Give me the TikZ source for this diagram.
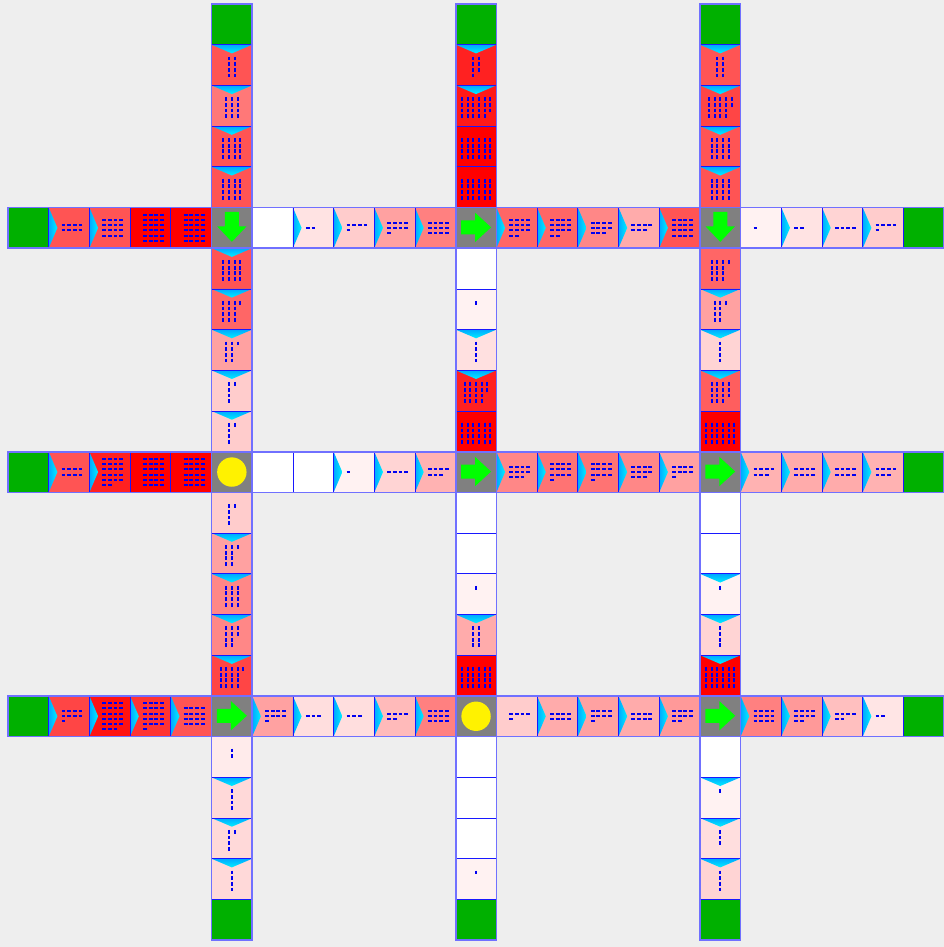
\documentclass[tikz,border=0pt]{standalone}
\usetikzlibrary{calc}
\definecolor{bggray}{HTML}{EEEEEE}
\definecolor{exitgreen}{HTML}{00B000}
\definecolor{crossgray}{HTML}{808080}
\definecolor{arrowgreen}{HTML}{00FF00}
\definecolor{cellblue}{HTML}{1818FF}
\definecolor{edgeblue}{HTML}{7070FF}
\definecolor{carblue}{HTML}{0000F0}
\definecolor{entryblue}{HTML}{00A8FF}
\definecolor{entrycyan}{HTML}{00F0FF}
\tikzset{
    cellframe/.style={draw=cellblue,line width=0.8pt},
    roadframe/.style={draw=edgeblue,line width=1.6pt},
    cardash/.style={draw=carblue,line width=2pt},
    exitcell/.style={fill=exitgreen},
    crosscell/.style={fill=crossgray},
    turnarrow/.style={fill=arrowgreen},
    signaldot/.style={fill=yellow}
}
\newcommand{\cellsize}{40.7}

% cell of a road running left to right
\newcommand{\hcell}[5]{%
  \pgfmathsetmacro{\cellx}{8+#1*\cellsize}%
  \pgfmathsetmacro{\celly}{4+#2*\cellsize}%
  \fill[red!#3!white] (\cellx,\celly) rectangle ++(\cellsize,\cellsize);
  \ifnum#5=1
    \shade[left color=entryblue,right color=entrycyan]
      (\cellx,\celly) -- ++(8.7,20.35) -- ++(-8.7,20.35) -- cycle;
  \fi
  \ifnum#4>0
    \pgfmathtruncatemacro{\nrows}{ceil(#4/4)}%
    \foreach \k in {1,...,#4}{
      \pgfmathtruncatemacro{\carrow}{int((\k-1)/4)}
      \pgfmathtruncatemacro{\carcol}{mod(\k-1,4)}
      \pgfmathsetmacro{\carx}{\cellx+23.35+(\carcol-1.5)*5.67}
      \pgfmathsetmacro{\cary}{\celly+20.35+(\carrow-(\nrows-1)/2)*5.2}
      \draw[cardash] (\carx-1.9,\cary) -- (\carx+1.9,\cary);
    }
  \fi
  \draw[cellframe] (\cellx,\celly) rectangle ++(\cellsize,\cellsize);
}

% cell of a road running top to bottom
\newcommand{\vcell}[5]{%
  \pgfmathsetmacro{\cellx}{8+#1*\cellsize}%
  \pgfmathsetmacro{\celly}{4+#2*\cellsize}%
  \fill[red!#3!white] (\cellx,\celly) rectangle ++(\cellsize,\cellsize);
  \ifnum#5=1
    \shade[top color=entryblue,bottom color=entrycyan]
      (\cellx,\celly) -- ++(20.35,8.7) -- ++(20.35,-8.7) -- cycle;
  \fi
  \ifnum#4>0
    \pgfmathtruncatemacro{\ncols}{ceil(#4/4)}%
    \foreach \k in {1,...,#4}{
      \pgfmathtruncatemacro{\carcol}{int((\k-1)/4)}
      \pgfmathtruncatemacro{\carrow}{mod(\k-1,4)}
      \pgfmathsetmacro{\carx}{\cellx+20.35+(\carcol-(\ncols-1)/2)*5.67}
      \pgfmathsetmacro{\cary}{\celly+22.35+(\carrow-1.5)*5.67}
      \draw[cardash] (\carx,\cary-1.9) -- (\carx,\cary+1.9);
    }
  \fi
  \draw[cellframe] (\cellx,\celly) rectangle ++(\cellsize,\cellsize);
}

\begin{document}
\begin{tikzpicture}[x=1pt,y=-1pt]
  \fill[bggray] (0,0) rectangle (944,947);
  \useasboundingbox (0,0) rectangle (944,947);

  % horizontal roads: index/tone/cars/entry
  \foreach \idx/\tone/\cnt/\tip in {1/67/8/1,2/67/16/1,3/100/24/0,4/100/24/0,
      6/0/0/0,7/11/2/1,8/20/5/1,9/37/9/1,10/50/12/1,12/60/14/1,13/60/14/1,
      14/47/11/1,15/33/7/1,16/67/16/1,18/5/1/0,19/11/2/1,20/17/4/1,21/20/5/1}
    {\hcell{\idx}{5}{\tone}{\cnt}{\tip}}
  \foreach \idx/\tone/\cnt/\tip in {1/67/8/1,2/87/22/1,3/100/24/0,4/100/24/0,
      6/0/0/0,7/0/0/0,8/5/1/1,9/17/4/1,10/30/7/1,12/47/11/1,13/55/13/1,
      14/55/13/1,15/47/11/1,16/37/9/1,18/30/7/1,19/33/8/1,20/33/8/1,21/30/7/1}
    {\hcell{\idx}{11}{\tone}{\cnt}{\tip}}
  \foreach \idx/\tone/\cnt/\tip in {1/73/9/1,2/93/23/1,3/80/21/1,4/67/16/1,
      6/37/9/1,7/13/3/1,8/13/3/1,9/27/6/1,10/50/12/1,12/20/5/0,13/33/8/1,
      14/37/9/1,15/33/8/1,16/40/10/1,18/50/12/1,19/40/10/1,20/25/6/1,21/10/2/1}
    {\hcell{\idx}{17}{\tone}{\cnt}{\tip}}

  % vertical roads
  \foreach \idx/\tone/\cnt/\tip in {1/67/8/1,2/53/12/1,3/67/16/1,4/67/16/1,
      6/67/16/1,7/60/13/1,8/37/9/1,9/20/5/1,10/20/5/1,12/20/5/0,13/37/9/1,
      14/47/12/1,15/47/10/1,16/73/17/1,18/8/2/0,19/15/4/1,20/15/5/1,21/15/4/1}
    {\vcell{5}{\idx}{\tone}{\cnt}{\tip}}
  \foreach \idx/\tone/\cnt/\tip in {1/87/7/1,2/90/23/1,3/100/24/0,4/100/24/0,
      6/0/0/0,7/5/1/0,8/12/4/1,9/87/18/1,10/100/24/0,12/0/0/0,13/0/0/0,
      14/5/1/0,15/33/8/1,16/100/24/0,18/0/0/0,19/0/0/0,20/0/0/0,21/5/1/0}
    {\vcell{11}{\idx}{\tone}{\cnt}{\tip}}
  \foreach \idx/\tone/\cnt/\tip in {1/67/8/1,2/73/18/1,3/67/16/1,4/67/16/1,
      6/60/13/0,7/37/9/1,8/17/4/1,9/63/15/1,10/100/24/0,12/0/0/0,13/0/0/0,
      14/5/1/1,15/17/4/1,16/100/24/1,18/0/0/0,19/5/1/1,20/13/3/1,21/17/4/1}
    {\vcell{17}{\idx}{\tone}{\cnt}{\tip}}

  % exits
  \foreach \r in {5,11,17}{
    \foreach \e in {0,22}{
      \fill[exitgreen] (8+\e*\cellsize,4+\r*\cellsize) rectangle ++(\cellsize,\cellsize);
      \draw[cellframe] (8+\e*\cellsize,4+\r*\cellsize) rectangle ++(\cellsize,\cellsize);
      \fill[exitgreen] (8+\r*\cellsize,4+\e*\cellsize) rectangle ++(\cellsize,\cellsize);
      \draw[cellframe] (8+\r*\cellsize,4+\e*\cellsize) rectangle ++(\cellsize,\cellsize);
    }
  }

  % crossings
  \foreach \ci/\cj in {5/5,11/5,17/5,5/11,11/11,17/11,5/17,11/17,17/17}{
    \fill[crosscell] (8+\ci*\cellsize,4+\cj*\cellsize) rectangle ++(\cellsize,\cellsize);
    \draw[cellframe] (8+\ci*\cellsize,4+\cj*\cellsize) rectangle ++(\cellsize,\cellsize);
  }
  \foreach \ci/\cj in {11/5,11/11,17/11,5/17,17/17}{
    \fill[turnarrow,shift={(28.35+\ci*\cellsize,23.85+\cj*\cellsize)}]
      (-15,-7) -- (-1,-7) -- (-1,-14.7) -- (15,0) -- (-1,14.7) -- (-1,7) -- (-15,7) -- cycle;
  }
  \foreach \ci/\cj in {5/5,17/5}{
    \fill[turnarrow,shift={(28.35+\ci*\cellsize,23.35+\cj*\cellsize)}]
      (-7,-15) -- (-7,-0.5) -- (-14.7,-0.5) -- (0,15) -- (14.7,-0.5) -- (7,-0.5) -- (7,-15) -- cycle;
  }
  \foreach \ci/\cj in {5/11,11/17}{
    \fill[signaldot] (28.35+\ci*\cellsize,24.35+\cj*\cellsize) circle (14.7);
  }

  % road outlines
  \foreach \r in {5,11,17}{
    \draw[roadframe] (8,4+\r*\cellsize) rectangle (8+23*\cellsize,4+\r*\cellsize+\cellsize);
    \draw[roadframe] (8+\r*\cellsize,4) rectangle (8+\r*\cellsize+\cellsize,4+23*\cellsize);
  }
\end{tikzpicture}
\end{document}
